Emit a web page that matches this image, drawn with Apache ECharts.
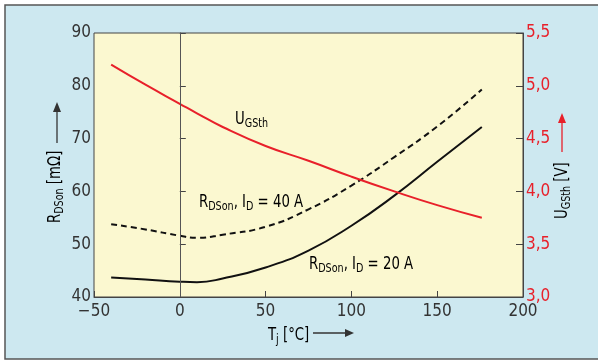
<!DOCTYPE html>
<html>
<head>
<meta charset="utf-8">
<script src="https://cdn.jsdelivr.net/npm/echarts@6/dist/echarts.min.js"></script>
<style>
  html, body { margin: 0; padding: 0; background: #fff; }
  #chart { width: 598px; height: 361px; }
</style>
</head>
<body>
<div id="chart"></div>
<script>
// junction temperature Tj [°C]
const tj = [-40, -20, 0, 10, 25, 50, 75, 100, 125, 150, 176];
// RDSon [mOhm] at ID = 20 A
const rdson20 = [43.7, 43.3, 42.9, 42.8, 43.5, 45.6, 48.8, 53.5, 59.2, 65.6, 72.2];
// RDSon [mOhm] at ID = 40 A
const rdson40 = [53.8, 52.8, 51.6, 51.2, 51.8, 53.3, 56.6, 61.1, 66.5, 72.3, 79.3];
// UGSth [V]
const ugsth = [5.20, 5.01, 4.83, 4.74, 4.61, 4.43, 4.29, 4.14, 4.00, 3.87, 3.75];

const FONT = "'DejaVu Sans Condensed', 'Liberation Sans Narrow', sans-serif";
const DARK = '#333';
const RED = '#e8202a';
const SX = 0.82; // squeeze free texts to look like the condensed original

const pairs = (ys) => tj.map((t, i) => [t, ys[i]]);

const rich = (color) => ({
  b: { fontFamily: FONT, fontSize: 18, color: color, lineHeight: 18, verticalAlign: 'top' },
  s: { fontFamily: FONT, fontSize: 13, color: color, lineHeight: 18, verticalAlign: 'top', padding: [7, 0, 0, 0] }
});

const chart = echarts.init(document.getElementById('chart'));
chart.setOption({
  animation: false,
  grid: {
    left: 94, top: 33, right: 75, bottom: 64,
    show: true,
    backgroundColor: '#fbf8d0',
    borderColor: '#444',
    borderWidth: 1
  },
  xAxis: {
    type: 'value', min: -50, max: 200, interval: 50,
    axisLine: { lineStyle: { color: '#444', width: 1 } },
    axisTick: { inside: true, length: 6, lineStyle: { color: '#444' } },
    splitLine: { show: false },
    axisLabel: {
      fontFamily: FONT, fontSize: 17, color: DARK, margin: 6,
      formatter: (v) => (v < 0 ? '\u2212' + Math.abs(v) : String(v))
    }
  },
  yAxis: [
    {
      type: 'value', min: 40, max: 90, interval: 10,
      axisLine: { show: true, lineStyle: { color: '#444', width: 1 } },
      axisTick: { show: true, inside: true, length: 6, lineStyle: { color: '#444' } },
      splitLine: { show: false },
      axisLabel: { fontFamily: FONT, fontSize: 17, color: DARK, margin: 3 }
    },
    {
      type: 'value', min: 3.0, max: 5.5, interval: 0.5, position: 'right',
      axisLine: { show: true, lineStyle: { color: '#444', width: 1 } },
      axisTick: { show: true, inside: true, length: 7, lineStyle: { color: '#444' } },
      splitLine: { show: false },
      axisLabel: {
        fontFamily: FONT, fontSize: 17, color: RED, margin: 3,
        formatter: (v) => v.toFixed(1).replace('.', ',')
      }
    }
  ],
  series: [
    {
      type: 'line', yAxisIndex: 0, smooth: true, showSymbol: false,
      lineStyle: { color: '#111', width: 2 },
      data: pairs(rdson20),
      markLine: {
        silent: true, symbol: 'none', label: { show: false },
        lineStyle: { color: '#555', width: 1, type: 'solid' },
        data: [{ xAxis: 0 }]
      }
    },
    {
      type: 'line', yAxisIndex: 0, smooth: true, showSymbol: false,
      lineStyle: { color: '#111', width: 2, type: [6, 4] },
      data: pairs(rdson40)
    },
    {
      type: 'line', yAxisIndex: 1, smooth: true, showSymbol: false,
      lineStyle: { color: RED, width: 2 },
      data: pairs(ugsth)
    }
  ],
  graphic: [
    {
      type: 'rect', z: -10, silent: true,
      shape: { x: 5, y: 5, width: 620, height: 354 },
      style: { fill: '#cde8f0', stroke: '#555', lineWidth: 1.5 }
    },
    // curve labels
    {
      type: 'text', x: 199, y: 193, z: 10, scaleX: SX,
      style: { text: '{b|R}{s|DSon}{b|, I}{s|D}{b| = 40 A}', rich: rich(DARK) }
    },
    {
      type: 'text', x: 309, y: 255, z: 10, scaleX: SX,
      style: { text: '{b|R}{s|DSon}{b|, I}{s|D}{b| = 20 A}', rich: rich(DARK) }
    },
    {
      type: 'text', x: 235, y: 110, z: 10, scaleX: SX,
      style: { text: '{b|U}{s|GSth}', rich: rich(RED) }
    },
    // x axis name and arrow
    {
      type: 'text', x: 268, y: 326, z: 10, scaleX: SX,
      style: { text: '{b|T}{s|j}{b| [°C]}', rich: rich(DARK) }
    },
    { type: 'line', z: 10, shape: { x1: 313, y1: 333, x2: 347, y2: 333 }, style: { stroke: DARK, lineWidth: 1.3 } },
    { type: 'polygon', z: 10, shape: { points: [[345, 329], [354, 333], [345, 337]] }, style: { fill: DARK } },
    // left axis name and arrow
    {
      type: 'text', x: 46, y: 223, rotation: Math.PI / 2, z: 10, scaleX: SX,
      style: { text: '{b|R}{s|DSon}{b| [mΩ]}', rich: rich(DARK) }
    },
    { type: 'line', z: 10, shape: { x1: 57, y1: 143, x2: 57, y2: 110 }, style: { stroke: DARK, lineWidth: 1.3 } },
    { type: 'polygon', z: 10, shape: { points: [[53, 112], [57, 102], [61, 112]] }, style: { fill: DARK } },
    // right axis name and arrow
    {
      type: 'text', x: 553, y: 219, rotation: Math.PI / 2, z: 10, scaleX: SX,
      style: { text: '{b|U}{s|GSth}{b| [V]}', rich: rich(RED) }
    },
    { type: 'line', z: 10, shape: { x1: 562, y1: 152, x2: 562, y2: 121 }, style: { stroke: RED, lineWidth: 1.3 } },
    { type: 'polygon', z: 10, shape: { points: [[558, 123], [562, 113], [566, 123]] }, style: { fill: RED } }
  ]
});
</script>
</body>
</html>
